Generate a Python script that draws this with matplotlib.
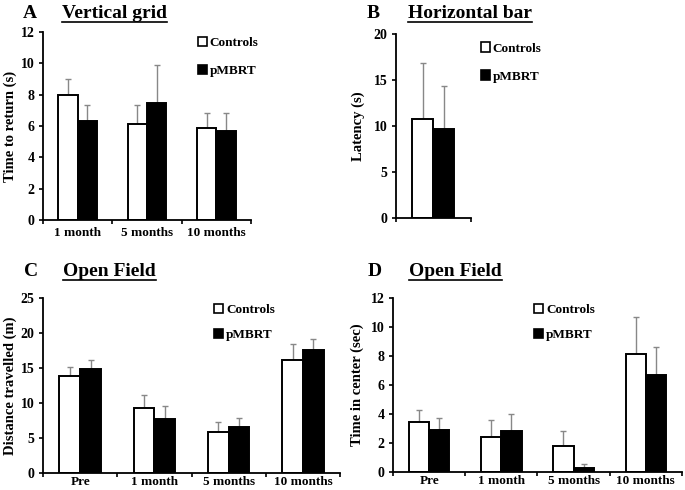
import numpy as np
import matplotlib
matplotlib.use("Agg")
import matplotlib.pyplot as plt
from matplotlib.patches import Patch
from matplotlib.lines import Line2D

plt.rcParams['font.family'] = ['Liberation Serif', 'DejaVu Serif']
plt.rcParams['font.weight'] = 'bold'

# datos
groups_A = ['1 month', '5 months', '10 months']
ctrl_A = [8.0, 6.1, 5.9]
ctrl_A_err = [1.0, 1.25, 0.95]
pmbrt_A = [6.35, 7.5, 5.7]
pmbrt_A_err = [1.0, 2.4, 1.15]

groups_B = ['']
ctrl_B = [10.8]
ctrl_B_err = [6.0]
pmbrt_B = [9.7]
pmbrt_B_err = [4.7]

groups_CD = ['Pre', '1 month', '5 months', '10 months']
ctrl_C = [13.8, 9.3, 5.9, 16.2]
ctrl_C_err = [1.4, 1.8, 1.4, 2.2]
pmbrt_C = [14.9, 7.7, 6.6, 17.6]
pmbrt_C_err = [1.3, 1.9, 1.3, 1.6]

ctrl_D = [3.45, 2.4, 1.8, 8.15]
ctrl_D_err = [0.85, 1.2, 1.05, 2.55]
pmbrt_D = [2.9, 2.8, 0.3, 6.7]
pmbrt_D_err = [0.85, 1.2, 0.25, 1.95]

fig = plt.figure(figsize=(6.85, 4.9), dpi=100)


def panel(rect, groups, c, ce, p, pe, ymax, ystep, ylabel, leg_pos, lspace, xpad, ylpad):
    ax = fig.add_axes(rect)
    x = np.arange(len(groups))
    w = 0.28
    for xs, vals, errs, fc in [(x - w / 2, c, ce, 'white'), (x + w / 2, p, pe, 'black')]:
        ax.bar(xs, vals, width=w, color=fc, edgecolor='black', linewidth=1.4, zorder=2)
        ax.errorbar(xs, vals, yerr=[np.zeros(len(vals)), errs], fmt='none',
                    ecolor='#888888', elinewidth=1, capsize=2, capthick=1, zorder=1)
    ax.set_xlim(-0.5, len(groups) - 0.5)
    ax.set_ylim(0, ymax)
    ax.set_yticks(np.arange(0, ymax + 0.01, ystep))
    ax.set_xticks(x)
    ax.set_xticklabels(groups, fontsize=9.5, fontweight='bold')
    ax.set_xticks(np.arange(len(groups) + 1) - 0.5, minor=True)
    ax.tick_params(axis='x', which='major', length=0, pad=xpad)
    ax.tick_params(axis='x', which='minor', length=3, width=1.2, direction='out')
    ax.tick_params(axis='y', length=3, width=1.2, labelsize=10, pad=3)
    for lab in ax.get_yticklabels():
        lab.set_fontweight('bold')
    ax.spines['top'].set_visible(False)
    ax.spines['right'].set_visible(False)
    ax.spines['left'].set_linewidth(1.3)
    ax.spines['bottom'].set_linewidth(1.3)
    ax.set_ylabel(ylabel, fontsize=10.5, fontweight='bold', labelpad=ylpad)
    handles = [Patch(facecolor='white', edgecolor='black', linewidth=1.2),
               Patch(facecolor='black', edgecolor='black', linewidth=1.2)]
    ax.legend(handles, ['Controls', 'pMBRT'], loc='upper left', bbox_to_anchor=leg_pos,
              frameon=False, handlelength=0.7, handleheight=0.7, handletextpad=0.2,
              labelspacing=lspace, borderpad=0, borderaxespad=0,
              prop={'weight': 'bold', 'size': 9.5})
    return ax


axA = panel([0.0628, 0.551, 0.3036, 0.3837], groups_A, ctrl_A, ctrl_A_err, pmbrt_A, pmbrt_A_err,
            12, 2, 'Time to return (s)', (0.745, 0.975), 1.2, 5, 3)
axB = panel([0.578, 0.5551, 0.1095, 0.3755], groups_B, ctrl_B, ctrl_B_err, pmbrt_B, pmbrt_B_err,
            20, 5, 'Latency (s)', (1.13, 0.955), 1.2, 5, 6)
axC = panel([0.0628, 0.0347, 0.4336, 0.3571], groups_CD, ctrl_C, ctrl_C_err, pmbrt_C, pmbrt_C_err,
            25, 5, 'Distance travelled (m)', (0.576, 0.965), 0.95, 2, 3)
axD = panel([0.5737, 0.0367, 0.4219, 0.3551], groups_CD, ctrl_D, ctrl_D_err, pmbrt_D, pmbrt_D_err,
            12, 2, 'Time in center (sec)', (0.488, 0.965), 0.95, 2, 5)

# letras y titulos subrayados
titles = [('A', 23, 'Vertical grid', 62, 13),
          ('B', 367, 'Horizontal bar', 408, 13),
          ('C', 24, 'Open Field', 63, 271),
          ('D', 368, 'Open Field', 409, 271)]
W, H = 685, 490
title_objs = []
for letter, lx, title, tx, ty in titles:
    fig.text(lx / W, 1 - ty / H, letter, fontsize=14, fontweight='bold', va='center', ha='left')
    t = fig.text(tx / W, 1 - ty / H, title, fontsize=14, fontweight='bold', va='center', ha='left')
    title_objs.append(t)

fig.canvas.draw()
r = fig.canvas.get_renderer()
for t in title_objs:
    bb = t.get_window_extent(renderer=r)
    y = (bb.y0 - 0.5) / fig.bbox.height
    fig.add_artist(Line2D([bb.x0 / fig.bbox.width, bb.x1 / fig.bbox.width], [y, y],
                          color='black', linewidth=1.2))

fig.savefig('out.png', dpi=100)
